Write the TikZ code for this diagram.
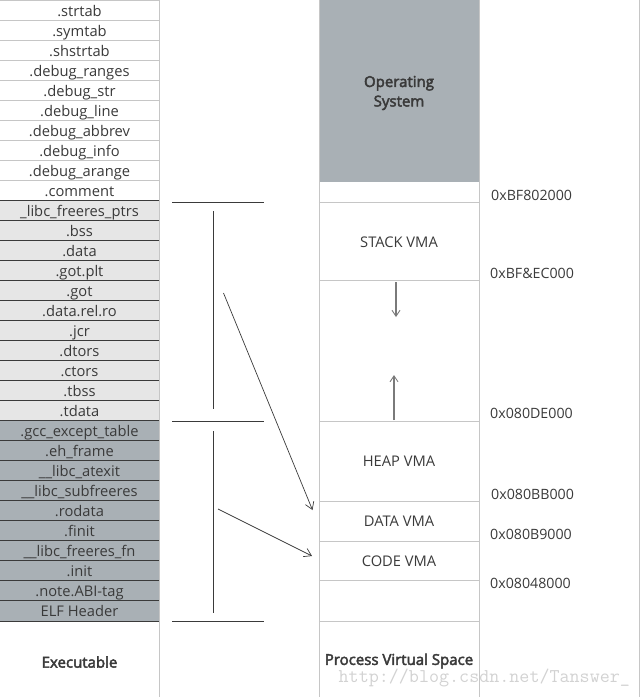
\documentclass[tikz,border=0pt]{standalone}
\usepackage{fontspec}
\setmainfont{Open Sans}
\newfontfamily\semibold[FakeBold=3]{Open Sans}
\usetikzlibrary{arrows.meta}
\definecolor{txt}{HTML}{3A3A3A}
\definecolor{lightline}{HTML}{C6C6C6}
\definecolor{lightfill}{HTML}{E6E6E6}
\definecolor{darkfill}{HTML}{A9B0B5}
\definecolor{darkline}{HTML}{3A3A3A}
\definecolor{arrowgray}{HTML}{7A7A7A}
\definecolor{wm}{HTML}{D2D2D2}
\tikzset{
  rowbox/.style={minimum width=159pt, minimum height=20pt, inner sep=0pt, text=txt, text height=12.6pt, text depth=2.4pt},
  vmabox/.style={minimum width=160pt, inner sep=0pt, text=txt},
  addr/.style={anchor=west, inner sep=0pt, text=txt, font=\fontsize{14.2}{16}\selectfont},
  bracket/.style={draw=darkline, line width=0.9pt},
  maparrow/.style={draw=darkline, line width=0.7pt, -{Straight Barb[length=7pt,width=9pt]}},
  growarrow/.style={draw=arrowgray, line width=1.4pt, -{Straight Barb[length=6pt,width=8pt,line width=0.9pt]}},
  title/.style={font=\semibold\fontsize{15}{17}\selectfont, text=txt}
}
\begin{document}
\begin{tikzpicture}[x=1pt, y=-1pt, font=\fontsize{14.7}{17}\selectfont]
\useasboundingbox (0,0) rectangle (640,697);
% ---------- Executable column ----------
\foreach \t [count=\i] in {.strtab,.symtab,.shstrtab,.debug\_ranges,.debug\_str,.debug\_line,.debug\_abbrev,.debug\_info,.debug\_arange,.comment}
  {\node[rowbox, fill=white] (w\i) at (79.5,{20*\i-9}) {\t};
   \draw[lightline, line width=0.8pt] (w\i.north west) -- (w\i.north east);}
\foreach \t [count=\i] in {\_libc\_freeres\_ptrs,.bss,.data,.got.plt,.got,.data.rel.ro,.jcr,.dtors,.ctors,.tbss,.tdata}
  {\node[rowbox, fill=lightfill] (l\i) at (79.5,{200+20*\i-9}) {\t};
   \draw[darkline, line width=0.9pt] (l\i.north west) -- (l\i.north east);}
\foreach \t [count=\i] in {.gcc\_except\_table,.eh\_frame,\_\_libc\_atexit,\_\_libc\_subfreeres,.rodata,.finit,\_\_libc\_freeres\_fn,.init,.note.ABI-tag,ELF Header}
  {\node[rowbox, fill=darkfill] (d\i) at (79.5,{420+20*\i-9}) {\t};
   \draw[darkline, line width=0.9pt] (d\i.north west) -- (d\i.north east);
   \draw[darkline, line width=0.9pt] (d\i.south west) -- (d\i.south east);}
\node[title] (exe) at (79.5,662) {Executable};
\draw[lightline, line width=0.9pt] (159.5,0) -- (159.5,697);
% ---------- Process virtual space column ----------
\node[vmabox, fill=darkfill, minimum height=182pt] (os) at (399,91) {};
\node[align=center, inner sep=0pt, text=txt, font=\semibold\fontsize{15}{19.5}\selectfont] (ostext) at (399,93) {Operating\\System};
\node[vmabox, minimum height=79pt] (stack) at (399,242) {STACK VMA};
\node[vmabox, minimum height=140pt] (gap) at (399,351) {};
\node[vmabox, minimum height=80pt] (heap) at (399,461.5) {HEAP VMA};
\node[vmabox, minimum height=40pt] (data) at (399,521.5) {DATA VMA};
\node[vmabox, minimum height=40pt] (code) at (399,561.5) {CODE VMA};
\node[vmabox, minimum height=40pt] (blank) at (399,601) {};
\foreach \n in {stack,gap,heap,data,code,blank}
  {\draw[lightline, line width=0.9pt] (\n.north west) -- (\n.north east);}
\draw[lightline, line width=0.9pt] (blank.south west) -- (blank.south east);
\draw[lightline, line width=0.9pt] (319,0) -- (319,697);
\draw[lightline, line width=0.9pt] (479,0) -- (479,697);
\draw[lightline, line width=0.9pt] (639,0) -- (639,697);
\node[title] (pvs) at (399,661) {Process Virtual Space};
% growth arrows
\coordinate (sdtop) at (396,282);
\coordinate (sdend) at (396,317);
\coordinate (hutop) at (394,375);
\coordinate (hubot) at (394,420);
\draw[growarrow] (sdtop) -- (sdend);
\draw[growarrow] (hubot) -- (hutop);
% addresses
\node[addr] (a1) at (491,195) {0xBF802000};
\node[addr] (a2) at (490,273) {0xBF\&EC000};
\node[addr] (a3) at (490,413) {0x080DE000};
\node[addr] (a4) at (491,494) {0x080BB000};
\node[addr] (a5) at (490,534) {0x080B9000};
\node[addr] (a6) at (490,583) {0x08048000};
% ---------- brackets ----------
\draw[bracket] (172,202) -- (264,202);
\draw[bracket] (172,421) -- (264,421);
\draw[bracket] (172,621) -- (264,621);
\draw[bracket] (213,211) -- (213,409);
\draw[bracket] (213,431) -- (213,613);
% mapping arrows
\coordinate (m1s) at (223.5,293);
\coordinate (m1e) at (312.5,510);
\coordinate (m2s) at (218,509);
\coordinate (m2e) at (312,556);
\draw[maparrow] (m1s) -- (m1e);
\draw[maparrow] (m2s) -- (m2e);
% watermark
\node[anchor=west, inner sep=0pt, text=wm, font=\ttfamily\fontsize{19.5}{20}\selectfont] (wmk) at (338.5,678) {http://blog.csdn.net/Tanswer\_};
\end{tikzpicture}
\end{document}
